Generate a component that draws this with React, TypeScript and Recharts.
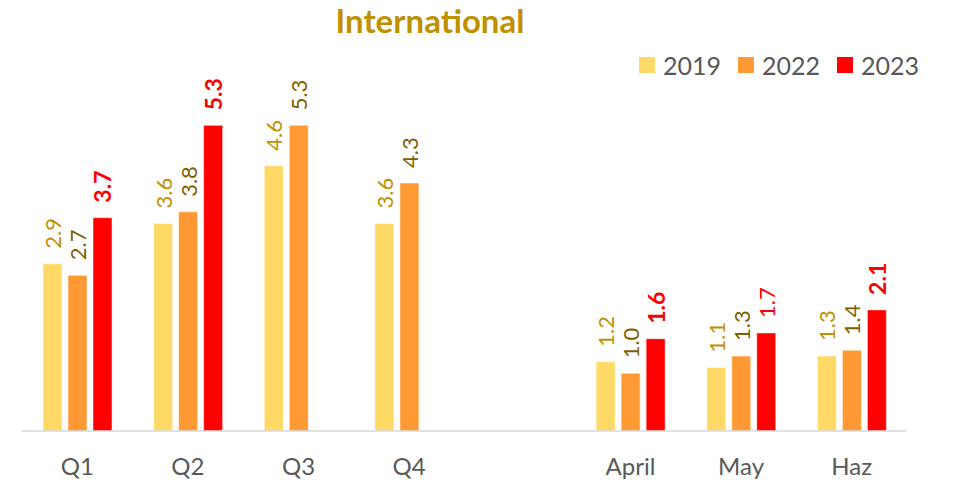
import { Bar, BarChart, XAxis, YAxis } from "recharts";

const categories = ["Q1", "Q2", "Q3", "Q4", "", "April", "May", "Haz"];
const values2019 = [2.9, 3.6, 4.6, 3.6, null, 1.2, 1.1, 1.3];
const values2022 = [2.7, 3.8, 5.3, 4.3, null, 1.0, 1.3, 1.4];
const values2023 = [3.7, 5.3, null, null, null, 1.6, 1.7, 2.1];
// which 2023 labels are drawn in bold
const bold2023 = ["Q1", "Q2", "April", "Haz"];

const SERIES = [
  { key: "y2019", name: "2019", fill: "#FFD966", labelColor: "#BF9000", values: values2019 },
  { key: "y2022", name: "2022", fill: "#FF9933", labelColor: "#7F6000", values: values2022 },
  { key: "y2023", name: "2023", fill: "#FF0000", labelColor: "#FF0000", values: values2023 },
];

const FONT = "Lato, 'Open Sans', sans-serif";

const data = categories.map((name, i) => ({
  name,
  y2019: values2019[i],
  y2022: values2022[i],
  y2023: values2023[i],
}));

const makeLabel =
  (color: string, values: (number | null)[], boldFor?: string[]) =>
  (props: any) => {
    const { x, y, width, value } = props;
    if (value == null) return null;
    // null points are skipped, so index is not reliable here
    const cat = props.payload?.name ?? categories[values.indexOf(value)];
    const bold = boldFor ? boldFor.includes(cat) : false;
    const cx = Number(x) + Number(width) / 2;
    const ty = Number(y) - 15;
    return (
      <text
        x={cx}
        y={ty}
        transform={`rotate(-90, ${cx}, ${ty})`}
        textAnchor="start"
        dominantBaseline="central"
        fill={color}
        fontSize={bold ? 23 : 22}
        fontWeight={bold ? 700 : 400}
        fontFamily={FONT}
      >
        {Number(value).toFixed(1)}
      </text>
    );
  };

const App = () => {
  return (
    <div
      style={{
        position: "absolute",
        left: 0,
        top: 0,
        width: 963,
        height: 491,
        background: "#fff",
        fontFamily: FONT,
      }}
    >
      <div
        style={{
          position: "absolute",
          left: 0,
          width: 860,
          top: 0,
          textAlign: "center",
          color: "#BF9000",
          fontWeight: 700,
          fontSize: 33,
        }}
      >
        International
      </div>
      <div
        style={{
          position: "absolute",
          top: 50,
          left: 639,
          display: "flex",
          alignItems: "center",
          color: "#595959",
          fontSize: 25,
        }}
      >
        {SERIES.map((s) => (
          <div
            key={s.key}
            style={{ display: "flex", alignItems: "center", marginRight: 17 }}
          >
            <span
              style={{
                display: "inline-block",
                width: 16,
                height: 16,
                background: s.fill,
                marginRight: 8,
              }}
            />
            {s.name}
          </div>
        ))}
      </div>
      <BarChart
        width={963}
        height={491}
        data={data}
        margin={{ top: 85, right: 56, bottom: 20, left: 22 }}
        barSize={19}
        barGap={6}
      >
        <XAxis
          dataKey="name"
          height={40}
          tickLine={false}
          axisLine={{ stroke: "#D9D9D9", strokeWidth: 1.5 }}
          tickMargin={21}
          tick={{ fill: "#595959", fontSize: 24, fontFamily: FONT }}
          interval={0}
        />
        <YAxis hide domain={[0, 6]} />
        {SERIES.map((s) => (
          <Bar
            key={s.key}
            dataKey={s.key}
            name={s.name}
            fill={s.fill}
            stroke="#ffffff"
            strokeOpacity={0.5}
            isAnimationActive={false}
            label={makeLabel(
              s.labelColor,
              s.values,
              s.key === "y2023" ? bold2023 : undefined
            )}
          />
        ))}
      </BarChart>
    </div>
  );
};

export default App;
